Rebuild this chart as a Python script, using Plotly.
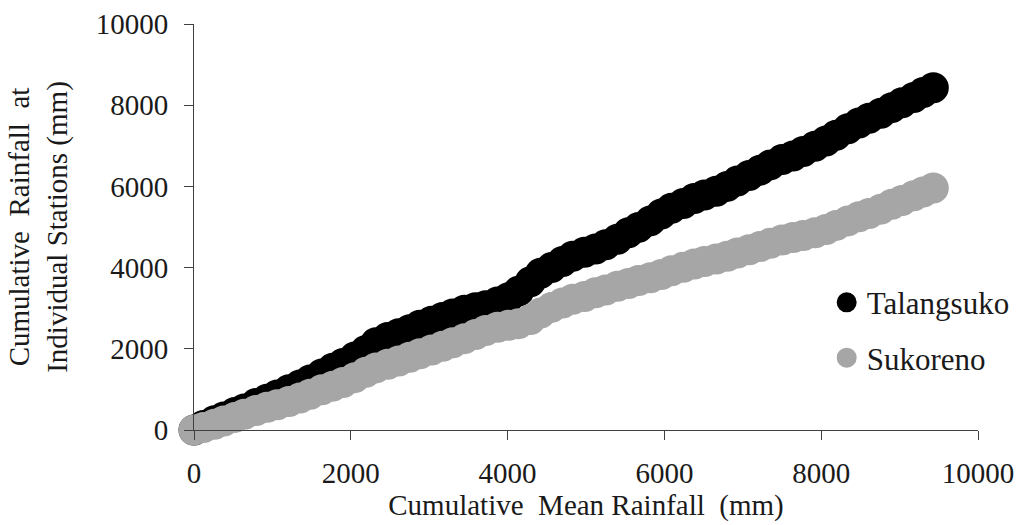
import plotly.graph_objects as go

# Cumulative mean rainfall (mm) – x values
mean_cum = [0, 120, 260, 380, 520, 640, 790, 930, 1060, 1210, 1350, 1480, 1630, 1770, 1900,
            2050, 2190, 2320, 2470, 2610, 2750, 2880, 3030, 3170, 3300, 3450, 3590, 3720, 3870,
            4010, 4140, 4290, 4420, 4560, 4700, 4830, 4980, 5120, 5250, 5400, 5540, 5670, 5820,
            5960, 6090, 6240, 6380, 6510, 6660, 6800, 6930, 7080, 7220, 7350, 7500, 7640, 7770,
            7920, 8060, 8190, 8340, 8480, 8610, 8760, 8900, 9030, 9180, 9300, 9430]

# Cumulative rainfall at Talangsuko (mm)
talangsuko = [0, 110, 230, 320, 430, 520, 650, 760, 860, 990, 1110, 1230, 1380, 1520, 1640,
              1800, 1960, 2150, 2280, 2370, 2470, 2580, 2680, 2770, 2860, 2950, 3010, 3060, 3150,
              3260, 3420, 3650, 3860, 4000, 4150, 4280, 4380, 4460, 4560, 4700, 4860, 4990, 5150,
              5320, 5460, 5580, 5700, 5790, 5880, 6000, 6130, 6270, 6400, 6530, 6660, 6750, 6860,
              6990, 7120, 7260, 7420, 7560, 7680, 7800, 7940, 8060, 8190, 8310, 8430]

# Cumulative rainfall at Sukoreno (mm)
sukoreno = [0, 60, 140, 220, 310, 390, 480, 560, 620, 700, 790, 880, 990, 1080, 1170,
            1290, 1420, 1530, 1620, 1700, 1790, 1880, 1970, 2060, 2150, 2250, 2350, 2450, 2530,
            2580, 2620, 2720, 2880, 3020, 3130, 3220, 3290, 3380, 3450, 3540, 3610, 3680, 3750,
            3830, 3920, 4010, 4090, 4150, 4210, 4280, 4360, 4440, 4520, 4600, 4680, 4740, 4790,
            4860, 4940, 5040, 5150, 5250, 5330, 5440, 5560, 5650, 5770, 5860, 5960]

x_ticks = [0, 2000, 4000, 6000, 8000, 10000]
y_ticks = [0, 2000, 4000, 6000, 8000, 10000]

FONT = "Liberation Serif, Times New Roman, serif"
BLACK = "#000000"
GRAY = "#A6A6A6"
TXT = "#1a1a1a"

fig = go.Figure()
fig.add_trace(go.Scatter(
    x=mean_cum, y=talangsuko, mode="markers", name="Talangsuko",
    legendgroup="a",
    marker=dict(size=27, color=BLACK, line=dict(width=4, color=BLACK)),
    cliponaxis=False,
))
fig.add_trace(go.Scatter(
    x=mean_cum, y=sukoreno, mode="markers", name="Sukoreno",
    legendgroup="b",
    marker=dict(size=27, color=GRAY, line=dict(width=4, color=GRAY)),
    cliponaxis=False,
))

axis_common = dict(
    showgrid=False, zeroline=False, showline=True, linecolor="#404040", linewidth=1,
    ticks="outside", ticklen=9, tickcolor="#404040", tickwidth=1,
    tickfont=dict(family=FONT, size=29, color=TXT),
    automargin=False,
)

fig.update_xaxes(
    range=[0, 10000], tickvals=x_ticks, ticktext=[str(v) for v in x_ticks],
    ticklabelstandoff=8,
    title=dict(text="Cumulative&nbsp; Mean Rainfall&nbsp; (mm)",
               font=dict(family=FONT, size=29, color=TXT), standoff=4),
    **axis_common,
)
fig.update_yaxes(
    range=[0, 10000], tickvals=y_ticks, ticktext=[str(v) for v in y_ticks],
    ticklabelstandoff=10,
    title=dict(text="Cumulative&nbsp; Rainfall&nbsp; at<br>Individual Stations (mm)",
               font=dict(family=FONT, size=29, color=TXT), standoff=19),
    **axis_common,
)

fig.update_layout(
    width=1018, height=525,
    margin=dict(l=194, r=40, t=24, b=95, autoexpand=False),
    paper_bgcolor="white", plot_bgcolor="white",
    showlegend=True,
    legend=dict(
        x=0.807, y=0.38, xanchor="left", yanchor="top",
        font=dict(family=FONT, size=31, color=TXT),
        bgcolor="rgba(0,0,0,0)", tracegroupgap=12, itemwidth=30,
    ),
)

fig.write_html(
    "out.html",
    config={"displayModeBar": False},
    post_script="document.body.style.margin='0';document.body.style.overflow='hidden';",
)
